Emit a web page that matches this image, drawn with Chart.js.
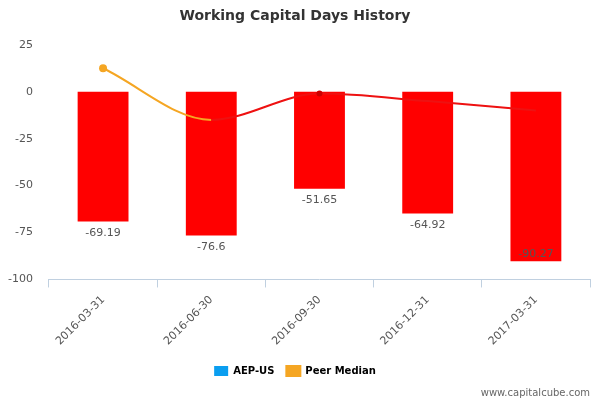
<!DOCTYPE html>
<html><head><meta charset="utf-8">
<script src="https://cdn.jsdelivr.net/npm/chart.js@4"></script>
<style>body{margin:0;background:#fff}#w{width:600px;height:400px;position:relative}</style>
</head><body><div id="w"><canvas id="c" width="600" height="400"></canvas></div>
<script>
const categories=["2016-03-31","2016-06-30","2016-09-30","2016-12-31","2017-03-31"];
const aepValues=[-69.19,-76.6,-51.65,-64.92,-90.27];
const peerMedian=[12.5,-15,-1,-5,-10];
const yTicks=[25,0,-25,-50,-75,-100];
const labelPlugin={id:'lbl',afterDatasetsDraw(ch){
  const ctx=ch.ctx,meta=ch.getDatasetMeta(0);
  ctx.save();ctx.font='11px "DejaVu Sans"';ctx.fillStyle='#555';ctx.textAlign='center';ctx.textBaseline='top';
  meta.data.forEach((b,i)=>{let y=b.y+6;if(y>ch.chartArea.bottom-30)y=b.y-13;ctx.fillText(String(aepValues[i]),b.x,y);});
  ctx.font='10px "DejaVu Sans"';ctx.fillStyle='#666';ctx.textAlign='right';ctx.fillText('www.capitalcube.com',590,388);
  ctx.restore();}};
new Chart(document.getElementById('c'),{
  data:{labels:categories,datasets:[
    {type:'bar',label:'AEP-US',data:aepValues,backgroundColor:'#ff0000',barPercentage:0.47,categoryPercentage:1,order:2},
    {type:'line',label:'Peer Median',data:peerMedian,borderColor:'#ee1111',borderWidth:2,tension:0.4,cubicInterpolationMode:'monotone',
     pointRadius:[4,0,3,0,0],pointBackgroundColor:['#f5a623','#e00','#c00','#e00','#e00'],pointBorderWidth:0,
     segment:{borderColor:c=>c.p0DataIndex===0?'#f5a623':'#ee1111'},order:1}
  ]},
  options:{responsive:false,animation:false,
    layout:{padding:{left:0,right:10,top:0,bottom:14}},
    plugins:{title:{display:true,text:'Working Capital Days History',color:'#333',font:{family:'"DejaVu Sans"',size:14,weight:'bold'},padding:{top:8,bottom:20}},
      legend:{position:'bottom',labels:{color:'#333',font:{family:'"DejaVu Sans"',size:10,weight:'bold'},boxWidth:14,boxHeight:10,padding:12,
        generateLabels:ch=>[{text:'AEP-US',fillStyle:'#0a9ef0',strokeStyle:'#0a9ef0',lineWidth:0,datasetIndex:0},
          {text:'Peer Median',fillStyle:'#f5a623',strokeStyle:'#f5a623',lineWidth:2,datasetIndex:1}]}},
      tooltip:{enabled:false}},
    scales:{
      x:{grid:{display:true,drawOnChartArea:false,color:'#c0d0e0',tickLength:8,offset:true},border:{color:'#c0d0e0'},
        ticks:{color:'#555',font:{family:'"DejaVu Sans"',size:11},maxRotation:45,minRotation:45,padding:6}},
      y:{min:-100,max:25,afterBuildTicks:a=>{a.ticks=yTicks.map(v=>({value:v}));},
        grid:{display:false},border:{display:false},ticks:{color:'#555',font:{family:'"DejaVu Sans"',size:11},padding:8}}
    }},
  plugins:[labelPlugin]
});
</script></body></html>
